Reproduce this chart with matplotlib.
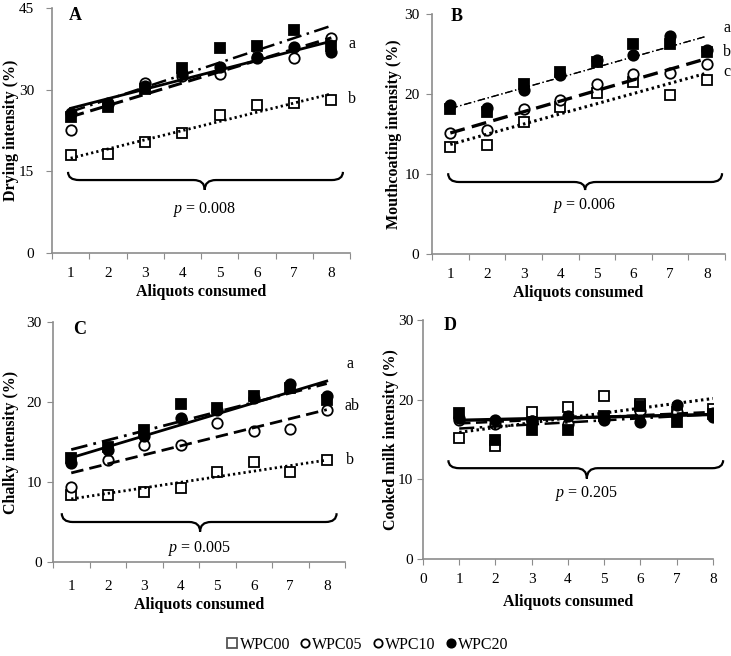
import numpy as np
import matplotlib
matplotlib.use('Agg')
import matplotlib.pyplot as plt
from matplotlib.path import Path
from matplotlib.patches import PathPatch
from matplotlib.lines import Line2D

plt.rcParams['font.family'] = ['Liberation Serif', 'DejaVu Serif']
plt.rcParams['mathtext.fontset'] = 'custom'
plt.rcParams['mathtext.rm'] = 'Liberation Serif'
plt.rcParams['mathtext.it'] = 'Liberation Serif:italic'

aliquots = [1, 2, 3, 4, 5, 6, 7, 8]
samples = ['WPC00', 'WPC05', 'WPC10', 'WPC20']

# A - drying
drying_00 = [18.0, 18.1, 20.3, 22.1, 25.3, 27.1, 27.6, 28.1]
drying_05 = [22.6, 27.5, 31.3, 32.5, 32.9, 36.0, 35.9, 39.4]
drying_10 = [25.0, 26.8, 30.2, 33.9, 37.7, 38.1, 41.0, 38.0]
drying_20 = [25.8, 27.4, 30.6, 33.1, 34.2, 35.9, 37.9, 37.0]
# B - mouthcoating
mouth_00 = [13.4, 13.6, 16.5, 18.4, 20.1, 21.5, 19.9, 21.8]
mouth_05 = [15.1, 15.5, 18.1, 19.3, 21.3, 22.5, 22.6, 23.8]
mouth_10 = [18.1, 17.8, 21.3, 22.7, 24.0, 26.2, 26.2, 25.3]
mouth_20 = [18.6, 18.3, 20.5, 22.4, 24.2, 24.9, 27.3, 25.5]
# C - chalky
chalky_00 = [8.4, 8.4, 8.7, 9.2, 11.3, 12.5, 11.2, 12.8]
chalky_05 = [9.4, 12.7, 14.6, 14.6, 17.4, 16.4, 16.6, 19.0]
chalky_10 = [13.0, 14.4, 16.5, 19.7, 19.2, 20.7, 21.7, 20.2]
chalky_20 = [12.4, 14.0, 15.7, 18.0, 19.0, 20.5, 22.3, 20.7]
# D - cooked milk
cooked_00 = [15.2, 14.2, 18.5, 19.1, 20.4, 19.5, 18.5, 18.8]
cooked_05 = [17.5, 17.0, 17.3, 17.0, 17.8, 18.6, 18.4, 18.3]
cooked_10 = [18.3, 14.9, 16.2, 16.2, 18.0, 19.2, 17.2, 18.2]
cooked_20 = [17.7, 17.5, 17.3, 18.0, 17.4, 17.2, 19.3, 17.8]

p_values = ['0.008', '0.006', '0.005', '0.205']
ylabels = ['Drying intensity (%)', 'Mouthcoating intensity (%)',
           'Chalky intensity (%)', 'Cooked milk intensity (%)']
letters = ['A', 'B', 'C', 'D']

GREY = '#8c8c8c'
markers = {'WPC00': dict(marker='s', mfc='white', mec='black'),
           'WPC05': dict(marker='o', mfc='white', mec='black'),
           'WPC10': dict(marker='s', mfc='black', mec='black'),
           'WPC20': dict(marker='o', mfc='black', mec='black')}
lstyles = {'WPC00': (0, (0.8, 1.1)),
           'WPC05': (0, (4.5, 2.2)),
           'WPC10': (0, (6, 2.2, 1, 2.2)),
           'WPC20': '-'}


def brace(ax, x0, x1, xm, ytop, yline, ytip, dx):
    verts = [(x0, ytop), (x0, yline), (x0 + dx, yline),
             (xm - dx, yline), (xm, yline), (xm, ytip),
             (xm, yline), (xm + dx, yline),
             (x1 - dx, yline), (x1, yline), (x1, ytop)]
    codes = [Path.MOVETO, Path.CURVE3, Path.CURVE3, Path.LINETO,
             Path.CURVE3, Path.CURVE3, Path.CURVE3, Path.CURVE3,
             Path.LINETO, Path.CURVE3, Path.CURVE3]
    ax.add_patch(PathPatch(Path(verts, codes), fc='none', ec='black',
                           lw=1.6, clip_on=False))


fig = plt.figure(figsize=(7.31, 6.56), dpi=100)
rects = [[52/731, 1-253/656, 298/731, 245/656],
         [432/731, 1-254/656, 293/731, 240/656],
         [53/731, 1-562/656, 292/731, 240/656],
         [423/731, 1-559/656, 290/731, 239/656]]
panel_data = [[drying_00, drying_05, drying_10, drying_20],
              [mouth_00, mouth_05, mouth_10, mouth_20],
              [chalky_00, chalky_05, chalky_10, chalky_20],
              [cooked_00, cooked_05, cooked_10, cooked_20]]
ymax = [45, 30, 30, 30]
yticks = [[0, 15, 30, 45], [0, 10, 20, 30], [0, 10, 20, 30], [0, 10, 20, 30]]
# brace: x0, x1, xm, ytop, yline, ytip ; p text pos
braces = [(0.93, 8.31, 4.6, 14.9, 13.4, 11.6, 7.9),
          (0.94, 8.42, 4.68, 10.1, 9.0, 8.0, 6.1),
          (0.74, 8.27, 4.53, 6.1, 5.0, 3.8, 1.7),
          (0.70, 8.28, 4.52, 12.4, 11.4, 10.1, 8.2)]
side = [[('a', 8.55, 38.3), ('b', 8.55, 28.2)],
        [('a', 8.56, 28.2), ('b', 8.56, 25.2), ('c', 8.56, 22.8)],
        [('a', 8.64, 24.8), ('ab', 8.69, 19.5), ('b', 8.64, 12.75)],
        []]
letter_pos = [(0.077, 0.97), (0.084, 0.99), (0.092, 0.967), (0.093, 0.979)]
ylab_x = [-0.111, -0.102, -0.116, -0.083]
xlab_y = [-0.127, -0.13, -0.146, -0.146]
fit_lw = [[2.0, 2.2, 1.8, 2.0], [2.2, 2.4, 0.9, 0.9],
          [2.0, 2.0, 2.0, 2.0], [2.2, 1.8, 1.8, 2.4]]

x = np.array(aliquots)
for i in range(4):
    ax = fig.add_axes(rects[i])
    for j, s in enumerate(samples):
        y = np.array(panel_data[i][j])
        ax.plot(x, y, ls='none', ms=7.5, mew=1.3, zorder=3 + j, **markers[s])
    for j, s in enumerate(samples):
        y = np.array(panel_data[i][j])
        k, b = np.polyfit(x, y, 1)
        ls = lstyles[s]
        if i == 1 and s == 'WPC20':
            ls = lstyles['WPC10']
        ax.plot(x, k * x + b, color='black', lw=fit_lw[i][j], ls=ls, zorder=8)

    ax.set_ylim(0, ymax[i])
    ax.set_yticks(yticks[i])
    if i < 3:
        ax.set_xlim(0.5, 8.5)
        ax.set_xticks(np.arange(0.5, 9, 1))
        ax.set_xticklabels([])
        ax.set_xticks(aliquots, minor=True)
        ax.set_xticklabels([str(a) for a in aliquots], minor=True)
        ax.tick_params(axis='x', which='minor', length=0,
                       pad=[10, 10, 13][i], labelsize=11)
    else:
        ax.set_xlim(0, 8)
        ax.set_xticks(range(9))
        ax.tick_params(axis='x', pad=6, labelsize=11)
    ax.tick_params(axis='both', which='major', direction='out', length=4,
                   color=GREY, labelsize=11)
    ax.tick_params(axis='y', pad=[9, 5, 4, 3][i])
    for sp in ['top', 'right']:
        ax.spines[sp].set_visible(False)
    for sp in ['left', 'bottom']:
        ax.spines[sp].set_color(GREY)
        ax.spines[sp].set_linewidth(1.2)

    ax.set_ylabel(ylabels[i], fontsize=11.5, fontweight='bold')
    ax.yaxis.set_label_coords(ylab_x[i], 0.5)
    ax.set_xlabel('Aliquots consumed', fontsize=11.5, fontweight='bold', va='top')
    ax.xaxis.set_label_coords(0.5, xlab_y[i])

    x0, x1, xm, yt, yl, ytip, yp = braces[i]
    brace(ax, x0, x1, xm, yt, yl, ytip, 0.3)
    ax.text(xm, yp, r'$p$ = ' + p_values[i], fontsize=11.5, ha='center', va='center')
    for t, tx, ty in side[i]:
        ax.text(tx, ty, t, fontsize=11.5, ha='center', va='center', clip_on=False)
    ax.text(letter_pos[i][0], letter_pos[i][1], letters[i], transform=ax.transAxes,
            fontsize=13, fontweight='bold', ha='center', va='center')

handles = [Line2D([], [], ls='none', marker='s', mfc='white', mec='#555555', ms=7, mew=1.3),
           Line2D([], [], ls='none', marker='o', mfc='white', mec='black', ms=6, mew=1.3),
           Line2D([], [], ls='none', marker='o', mfc='white', mec='black', ms=6, mew=1.3),
           Line2D([], [], ls='none', marker='o', mfc='black', mec='black', ms=6, mew=1.3)]
fig.legend(handles, samples, loc='center', bbox_to_anchor=(0.503, 1 - 645/656),
           ncol=4, frameon=False, fontsize=11.5, handlelength=0.7,
           handletextpad=0.1, columnspacing=0.6)

fig.savefig('out.png', dpi=100)
